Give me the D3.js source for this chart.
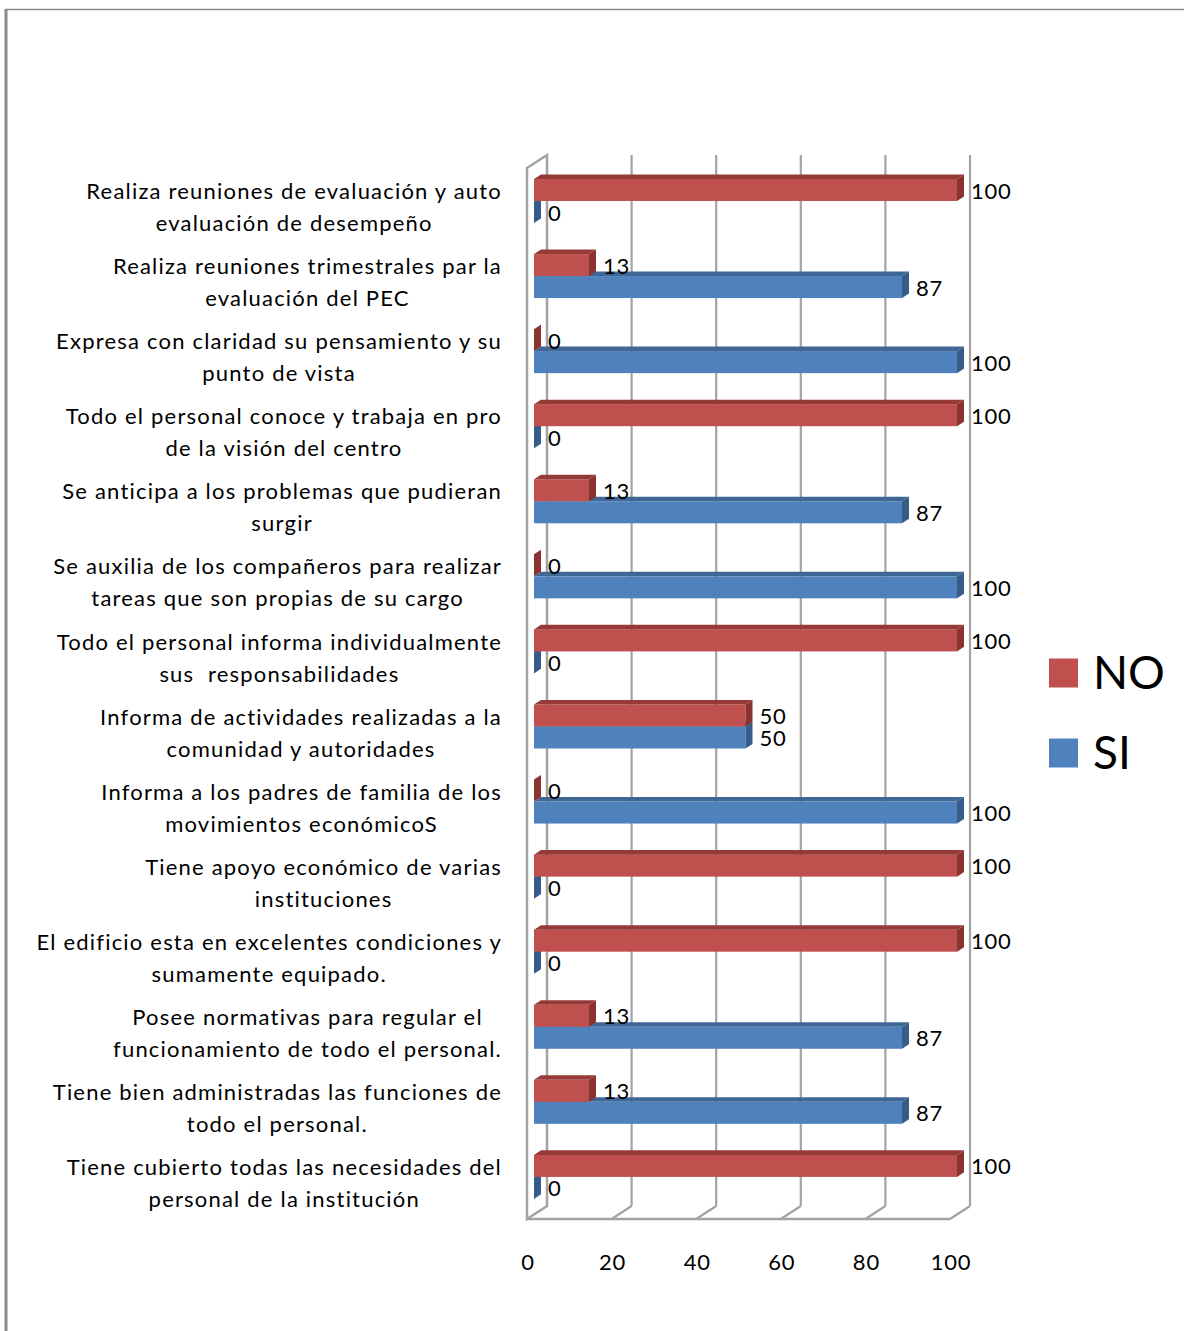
<!DOCTYPE html>
<html>
<head>
<meta charset="utf-8">
<script src="https://cdn.jsdelivr.net/npm/d3@7"></script>
<style>
  html, body { margin: 0; padding: 0; background: #fff; }
  svg { display: block; }
  text { font-family: Lato, "Open Sans", sans-serif; fill: #000; }
</style>
</head>
<body>
<svg id="chart" width="1184" height="1331"></svg>
<script>
// Survey items, each split into the two lines it is shown on
const categories = [
  ["Realiza reuniones de evaluación y auto", "evaluación de desempeño"],
  ["Realiza reuniones trimestrales par la", "evaluación del PEC"],
  ["Expresa con claridad su pensamiento y su", "punto de vista"],
  ["Todo el personal conoce y trabaja en pro", "de la visión del centro"],
  ["Se anticipa a los problemas que pudieran", "surgir"],
  ["Se auxilia de los compañeros para realizar", "tareas que son propias de su cargo"],
  ["Todo el personal informa individualmente", "sus  responsabilidades"],
  ["Informa de actividades realizadas a la", "comunidad y autoridades"],
  ["Informa a los padres de familia de los", "movimientos económicoS"],
  ["Tiene apoyo económico de varias", "instituciones"],
  ["El edificio esta en excelentes condiciones y", "sumamente equipado."],
  ["Posee normativas para regular el", "funcionamiento de todo el personal."],
  ["Tiene bien administradas las funciones de", "todo el personal."],
  ["Tiene cubierto todas las necesidades del", "personal de la institución"]
];
const seriesNames = ["NO", "SI"];
const valuesNO = [100, 13, 0, 100, 13, 0, 100, 50, 0, 100, 100, 13, 13, 100];
const valuesSI = [0, 87, 100, 0, 87, 100, 0, 50, 100, 0, 0, 87, 87, 0];
const xTicks = [0, 20, 40, 60, 80, 100];

const colors = {
  NO: { front: "#C0504D", top: "#953A37", side: "#8A3331" },
  SI: { front: "#4F81BD", top: "#3E6796", side: "#375C89" }
};

const svg = d3.select("#chart");

// Outer frame (left and top edges)
svg.append("line").attr("x1", 6).attr("y1", 9).attr("x2", 6).attr("y2", 1331)
  .attr("stroke", "#8a8a8a").attr("stroke-width", 3);
svg.append("line").attr("x1", 5).attr("y1", 9.5).attr("x2", 1184).attr("y2", 9.5)
  .attr("stroke", "#8a8a8a").attr("stroke-width", 1.5);

// Oblique projection: value along x, category along y, depth t in [0,1]
const depthDX = 20, depthDY = -13;
const x = d3.scaleLinear().domain([0, 100]).range([527, 950]);
const catIdx = d3.range(categories.length);
const y = d3.scaleBand().domain(catIdx).range([168, 1219]).padding(0);
const ySeries = d3.scaleBand().domain(seriesNames).range([0, y.step()])
  .paddingInner(0).paddingOuter(0.706);
const proj = (v, yy, t) => [x(v) + depthDX * t, yy + depthDY * t];

const gridColor = "#a3a3a3";
const walls = svg.append("g");
const yTop = 168, yBot = 1219;

// Left side wall
const lw = [proj(0, yTop, 0), proj(0, yTop, 1), proj(0, yBot, 1), proj(0, yBot, 0)];
walls.append("path").attr("d", d3.line()(lw) + "Z")
  .attr("fill", "none").attr("stroke", gridColor).attr("stroke-width", 2.5);

// Back-wall gridlines and floor diagonals
xTicks.forEach(v => {
  const bt = proj(v, yTop, 1), bb = proj(v, yBot, 1), fb = proj(v, yBot, 0);
  if (v !== 0) {
    walls.append("line").attr("x1", bt[0]).attr("y1", bt[1]).attr("x2", bb[0]).attr("y2", bb[1])
      .attr("stroke", gridColor).attr("stroke-width", 2.2);
    walls.append("line").attr("x1", fb[0]).attr("y1", fb[1]).attr("x2", bb[0]).attr("y2", bb[1])
      .attr("stroke", gridColor).attr("stroke-width", 2.2);
  }
});
// Front floor edge
walls.append("line")
  .attr("x1", x(0)).attr("y1", yBot).attr("x2", x(100)).attr("y2", yBot)
  .attr("stroke", gridColor).attr("stroke-width", 2.5);

// Bars: front, top and side faces
const t0 = 0.35, t1 = 0.7;
const bars = svg.append("g");
const labels = svg.append("g");
const barH = ySeries.bandwidth();

catIdx.forEach(i => {
  // SI first so the NO bar sits over its top face
  ["SI", "NO"].forEach(s => {
    const v = s === "NO" ? valuesNO[i] : valuesSI[i];
    const yf = y(i) + ySeries(s);
    const c = colors[s];
    const a = proj(0, yf, t0), b = proj(v, yf, t0), bb = proj(v, yf + barH, t0);
    const a1 = proj(0, yf, t1), b1 = proj(v, yf, t1), bb1 = proj(v, yf + barH, t1);
    if (v > 0) {
      bars.append("rect").attr("x", a[0]).attr("y", a[1])
        .attr("width", b[0] - a[0]).attr("height", barH).attr("fill", c.front);
      bars.append("path").attr("d", d3.line()([a, b, b1, a1]) + "Z").attr("fill", c.top);
    }
    bars.append("path").attr("d", d3.line()([b, bb, bb1, b1]) + "Z").attr("fill", c.side);
    labels.append("text")
      .attr("x", b[0] + 14).attr("y", a[1] + barH / 2 + 3)
      .attr("dominant-baseline", "middle")
      .attr("font-size", 22)
      .attr("letter-spacing", 0.8)
      .text(v);
  });
});

// Category labels, centred per line, block right-aligned to the chart
const catG = svg.append("g");
catIdx.forEach(i => {
  const cy = y(i) + y.step() / 2 + 4;
  const g = catG.append("g");
  const ts = categories[i].map((line, k) => g.append("text")
    .attr("y", cy + (k - 0.5) * 32)
    .attr("dominant-baseline", "middle")
    .attr("text-anchor", "middle")
    .attr("font-size", 22)
    .attr("letter-spacing", 1.2)
    .attr("xml:space", "preserve")
    .text(line));
  const maxW = d3.max(ts, t => t.node().getComputedTextLength());
  ts.forEach(t => t.attr("x", 502 - maxW / 2));
});

// Value axis tick labels
svg.append("g").selectAll("text").data(xTicks).join("text")
  .attr("x", d => x(d) + 1).attr("y", 1264)
  .attr("text-anchor", "middle").attr("dominant-baseline", "middle")
  .attr("font-size", 22)
  .attr("letter-spacing", 0.8)
  .text(d => d);

// Legend
const legend = svg.append("g");
seriesNames.forEach((s, k) => {
  const ly = 673 + k * 80;
  legend.append("rect").attr("x", 1049).attr("y", ly - 14.5)
    .attr("width", 29).attr("height", 29).attr("fill", colors[s].front);
  legend.append("text").attr("x", 1093).attr("y", ly + 4)
    .attr("dominant-baseline", "middle").attr("font-size", 46)
    .text(s);
});
</script>
</body>
</html>
